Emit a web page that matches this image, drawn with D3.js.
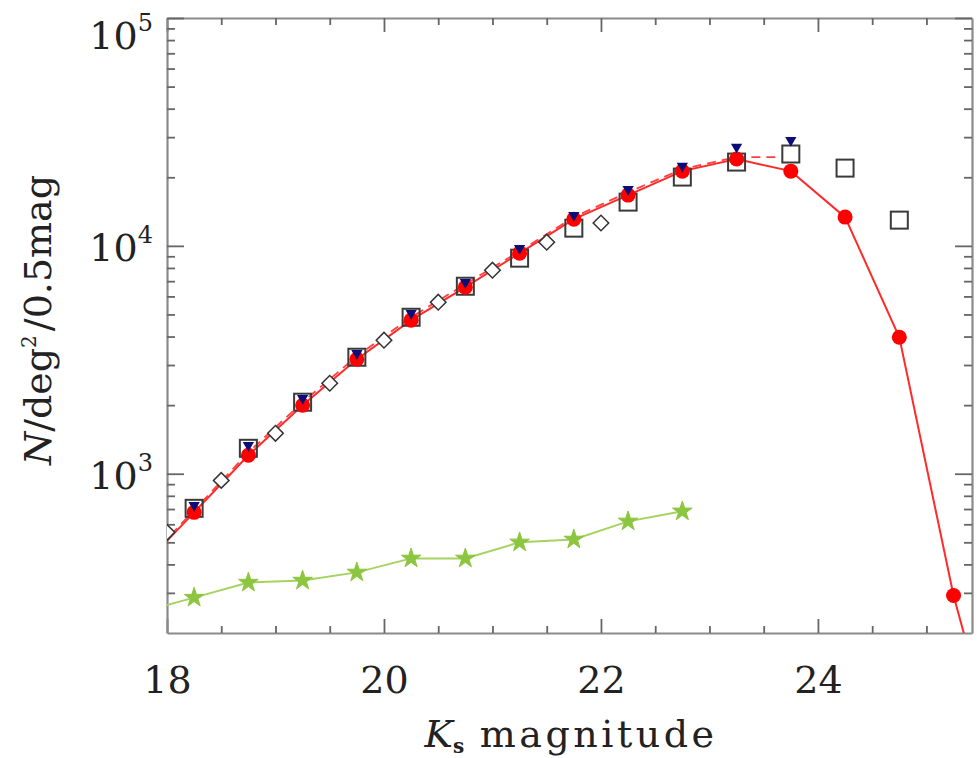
<!DOCTYPE html>
<html><head><meta charset="utf-8">
<script src="https://cdn.jsdelivr.net/npm/d3@7"></script>
<style>body{margin:0;background:#fff}</style>
</head><body><svg id="c" width="977" height="758"></svg>
<script>
// ---- data ----
const redMags   = [17.75,18.25,18.75,19.25,19.75,20.25,20.75,21.25,21.75,22.25,22.75,23.25,23.75,24.25,24.75,25.25,25.75];
const redVals   = [380,677,1205,1997,3180,4720,6590,9290,13100,16700,21280,24040,21280,13370,3970,292,39];
const dashMags  = [17.75,18.25,18.75,19.25,19.75,20.25,20.75,21.25,21.75,22.25,22.75,23.25,23.65];
const dashVals  = [388,691,1241,2060,3280,4860,6790,9480,13370,17200,21720,24530,24530];
const triMags   = [18.25,18.75,19.25,19.75,20.25,20.75,21.25,21.75,22.25,22.75,23.25,23.75];
const triVals   = [727,1333,2143,3380,5060,6930,9770,13640,17740,22390,27140,29100];
const sqMags    = [18.25,18.75,19.25,19.75,20.25,20.75,21.25,21.75,22.25,22.75,23.25,23.75,24.25,24.75];
const sqVals    = [705,1293,2060,3245,4860,6650,8830,11960,15560,20040,23320,25300,21940,12970];
const diaMags   = [18.0,18.5,19.0,19.5,20.0,20.5,21.0,21.5,22.0];
const diaVals   = [553,935,1504,2495,3855,5660,7820,10380,12600];
const starMags  = [17.75,18.25,18.75,19.25,19.75,20.25,20.75,21.25,21.75,22.25,22.75];
const starVals  = [246,286,333,340,369,425,425,500,515,618,684];
const xMajor    = [18,20,22,24];
const xMinor    = [18.5,19,19.5,20.5,21,21.5,22.5,23,23.5,24.5,25];
const yMajor    = [1e3,1e4,1e5];
const yMajorExp = ["3","4","5"];
const yMinor    = [300,400,500,600,700,800,900,2000,3000,4000,5000,6000,7000,8000,9000,20000,30000,40000,50000,60000,70000,80000,90000];

const L=167,R=972,T=18,B=633;
const x = d3.scaleLinear().domain([18,25.42]).range([L,R]);
const y = d3.scaleLog().domain([200,1e5]).range([B,T]);

const svg = d3.select("#c");
svg.append("rect").attr("width",977).attr("height",758).attr("fill","#fff");
svg.append("clipPath").attr("id","clip").append("rect").attr("x",L).attr("y",T).attr("width",R-L).attr("height",B-T);

const FONT = "DejaVu Serif";
const axisCol = "#8a8a8a";

function styleAxis(g){
  g.selectAll(".domain").attr("stroke",axisCol).attr("stroke-width",2.2);
  g.selectAll(".tick line").attr("stroke","#666").attr("stroke-width",1.8);
  g.selectAll("text").attr("font-family",FONT).attr("font-size",38).attr("fill","#222");
}
// bottom
const gb = svg.append("g").attr("transform",`translate(0,${B})`)
  .call(d3.axisBottom(x).tickValues(xMajor).tickSize(-14).tickSizeOuter(0).tickPadding(60).tickFormat(d3.format("d")));
styleAxis(gb);
gb.selectAll("text").attr("dy","0");
svg.append("g").attr("transform",`translate(0,${B})`)
  .call(d3.axisBottom(x).tickValues(xMinor).tickSize(-7).tickFormat("")).call(g=>{g.select(".domain").remove();styleAxis(g);});
// top
const gt = svg.append("g").attr("transform",`translate(0,${T})`)
  .call(d3.axisTop(x).tickValues(xMajor).tickSize(-14).tickSizeOuter(0).tickFormat(""));
styleAxis(gt);
svg.append("g").attr("transform",`translate(0,${T})`)
  .call(d3.axisTop(x).tickValues(xMinor).tickSize(-7).tickFormat("")).call(g=>{g.select(".domain").remove();styleAxis(g);});
// left
const gl = svg.append("g").attr("transform",`translate(${L},0)`)
  .call(d3.axisLeft(y).tickValues(yMajor).tickSize(-17).tickSizeOuter(0).tickFormat(""));
styleAxis(gl);
gl.selectAll(".tick").each(function(d,i){
  const t = d3.select(this).append("text")
    .attr("font-family",FONT).attr("fill","#222").attr("text-anchor","end")
    .attr("x",-14).attr("y", Math.max(15, 48 - y(d)));
  t.append("tspan").attr("font-size",38).text("10");
  t.append("tspan").attr("font-size",24).attr("dy",-18).text(yMajorExp[i]);
});
svg.append("g").attr("transform",`translate(${L},0)`)
  .call(d3.axisLeft(y).tickValues(yMinor).tickSize(-8).tickFormat("")).call(g=>{g.select(".domain").remove();styleAxis(g);});
// right
const gr = svg.append("g").attr("transform",`translate(${R},0)`)
  .call(d3.axisRight(y).tickValues(yMajor).tickSize(-17).tickSizeOuter(0).tickFormat(""));
styleAxis(gr);
svg.append("g").attr("transform",`translate(${R},0)`)
  .call(d3.axisRight(y).tickValues(yMinor).tickSize(-8).tickFormat("")).call(g=>{g.select(".domain").remove();styleAxis(g);});

// ---- marks ----
const plot = svg.append("g").attr("clip-path","url(#clip)");
const line = d3.line().x(d=>x(d[0])).y(d=>y(d[1]));
const zip = (a,b)=>a.map((v,i)=>[v,b[i]]);

const redPts = zip(redMags,redVals);
const dashPts = zip(dashMags,dashVals);
const triPts = zip(triMags,triVals);
const sqPts = zip(sqMags,sqVals);
const diaPts = zip(diaMags,diaVals);
const starPts = zip(starMags,starVals);

plot.append("path").datum(starPts).attr("d",line).attr("fill","none").attr("stroke","#a6d260").attr("stroke-width",2);
plot.append("path").datum(redPts).attr("d",line).attr("fill","none").attr("stroke","#ff2a2a").attr("stroke-width",2);
plot.append("path").datum(dashPts).attr("d",line).attr("fill","none").attr("stroke","#ff4040").attr("stroke-width",1.8).attr("stroke-dasharray","9,6");

plot.selectAll(".star").data(starPts.filter(d=>d[0]>=18)).join("path")
  .attr("d",d3.symbol(d3.symbolStar,120)).attr("transform",d=>`translate(${x(d[0])},${y(d[1])})`)
  .attr("fill","#8cc63f").attr("stroke","#8cc63f").attr("stroke-width",1);

plot.selectAll(".dia").data(diaPts).join("rect")
  .attr("x",-5.5).attr("y",-5.5).attr("width",11).attr("height",11)
  .attr("transform",d=>`translate(${x(d[0])},${y(d[1])}) rotate(45)`)
  .attr("fill","#fff").attr("stroke","#333").attr("stroke-width",1.5);

plot.selectAll(".sq").data(sqPts).join("rect")
  .attr("x",d=>x(d[0])-8.5).attr("y",d=>y(d[1])-8.5).attr("width",17).attr("height",17)
  .attr("fill","none").attr("stroke","#3a3a3a").attr("stroke-width",2);

plot.selectAll(".circ").data(redPts.filter(d=>d[0]>=18 && d[0]<=25.4)).join("circle")
  .attr("cx",d=>x(d[0])).attr("cy",d=>y(d[1])).attr("r",7.5).attr("fill","#ff0000");

plot.selectAll(".tri").data(triPts).join("path")
  .attr("d",d3.symbol(d3.symbolTriangle,55)).attr("transform",d=>`translate(${x(d[0])},${y(d[1])}) rotate(180)`)
  .attr("fill","#0b0b7a");

// ---- labels ----
const xl = svg.append("text").attr("x",571).attr("y",747).attr("text-anchor","middle")
  .attr("font-family",FONT).attr("font-size",38).attr("fill","#222");
xl.append("tspan").attr("font-style","italic").text("K");
xl.append("tspan").attr("font-size",20).attr("font-weight","bold").attr("dy",6).text("s");
xl.append("tspan").attr("dy",-6).attr("letter-spacing",3.5).text(" magnitude");

const yl = svg.append("text").attr("transform","translate(51,320) rotate(-90)").attr("text-anchor","middle")
  .attr("font-family",FONT).attr("font-size",38).attr("fill","#222");
yl.append("tspan").attr("font-style","italic").text("N");
yl.append("tspan").text("/deg");
yl.append("tspan").attr("font-size",20).attr("dy",-15).text("2");
yl.append("tspan").attr("dy",15).attr("dx",4).text("/0.5mag");
</script></body></html>
